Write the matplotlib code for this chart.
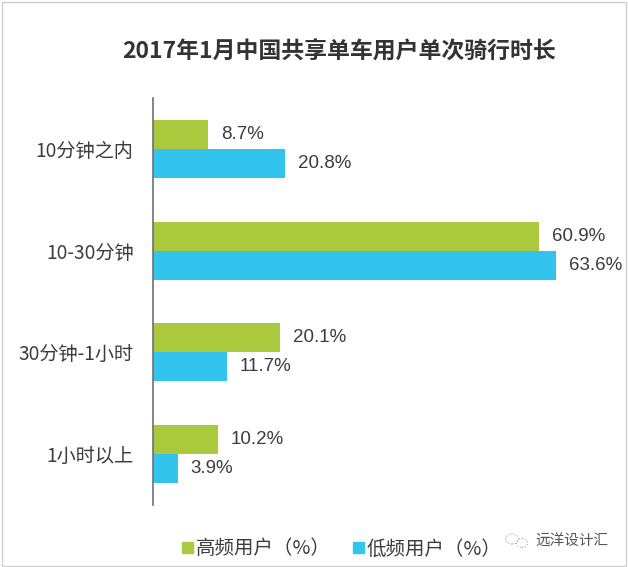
import matplotlib
matplotlib.use('Agg')
import matplotlib.pyplot as plt
from matplotlib.patches import Ellipse
import numpy as np

plt.rcParams['font.family'] = ['Noto Sans CJK SC', 'DejaVu Sans']

categories = ['10分钟之内', '10-30分钟', '30分钟-1小时', '1小时以上']
high_freq = [8.7, 60.9, 20.1, 10.2]
low_freq = [20.8, 63.6, 11.7, 3.9]
series_names = ['高频用户（%）', '低频用户（%）']
title = '2017年1月中国共享单车用户单次骑行时长'

green = '#abc93d'
blue = '#33c4ee'
text_col = '#3c3c3c'

fig = plt.figure(figsize=(6.28, 5.67), dpi=100)
ax = fig.add_axes([153 / 628, 1 - 505 / 567, 444 / 628, 407 / 567])

y = np.arange(len(categories))
h = 0.285
b1 = ax.barh(y - h / 2, high_freq, height=h, color=green, label=series_names[0])
b2 = ax.barh(y + h / 2, low_freq, height=h, color=blue, label=series_names[1])

for bars, vals in ((b1, high_freq), (b2, low_freq)):
    for bar, v in zip(bars, vals):
        ax.text(v + 2.0, bar.get_y() + bar.get_height() / 2, '%.1f%%' % v,
                va='center', ha='left', fontsize=13.5, color=text_col,
                family=['Liberation Sans', 'DejaVu Sans'])

ax.set_xlim(0, 70)
ax.set_ylim(3.5, -0.5)
ax.set_yticks(y)
ax.set_yticklabels(categories, fontsize=13.8, color=text_col)
ax.tick_params(axis='y', length=0, pad=14)
ax.set_xticks([])
for s in ['top', 'right', 'bottom']:
    ax.spines[s].set_visible(False)
ax.spines['left'].set_color('#707070')
ax.spines['left'].set_linewidth(1.2)

fig.text(339 / 628, 1 - 52 / 567, title, ha='center', va='center',
         fontsize=16.5, fontweight='bold', color='#333333')

# legend
fig.patches.append(plt.Rectangle((182 / 628, 1 - 553 / 567), 11 / 628, 11 / 567,
                                 transform=fig.transFigure, color=green))
fig.text(196 / 628, 1 - 549 / 567, series_names[0], ha='left', va='center',
         fontsize=14, color=text_col)
fig.patches.append(plt.Rectangle((353 / 628, 1 - 553 / 567), 11 / 628, 11 / 567,
                                 transform=fig.transFigure, color=blue))
fig.text(367 / 628, 1 - 549 / 567, series_names[1], ha='left', va='center',
         fontsize=14, color=text_col)

# watermark
fig.text(535 / 628, 1 - 541 / 567, '远洋设计汇', ha='left', va='center',
         fontsize=10.5, color='#555555')
for cx, cy, w, hh in ((512, 539, 13, 10), (522, 543, 11, 9)):
    fig.patches.append(Ellipse((cx / 628, 1 - cy / 567), w / 628, hh / 567,
                               transform=fig.transFigure, fill=False,
                               edgecolor='#aaaaaa', linewidth=0.8, linestyle=':'))

# image frame
fig.patches.append(plt.Rectangle((0.003, 0.002), 0.994, 0.994, transform=fig.transFigure,
                                 fill=False, edgecolor='#d0d0d0', linewidth=1))

fig.savefig('out.png', dpi=100)
